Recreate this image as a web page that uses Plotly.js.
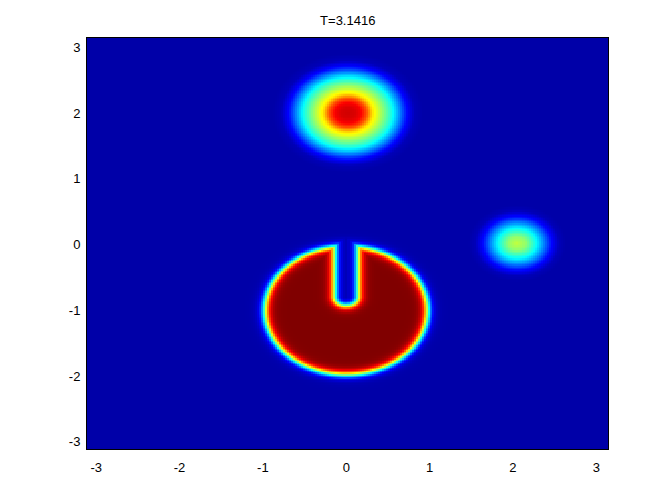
<!DOCTYPE html>
<html>
<head>
<meta charset="utf-8">
<script src="https://cdn.plot.ly/plotly-3.0.1.min.js"></script>
<style>html,body{margin:0;padding:0;background:#fff;}#plot{width:672px;height:504px;}</style>
</head>
<body>
<div id="plot"></div>
<script>
// ---- values ----
const titleText = "T=3.1416";
const xRange = [-3.11, 3.14];
const yRange = [-3.11, 3.14];
const tickVals = [-3, -2, -1, 0, 1, 2, 3];
const tickText = ["-3", "-2", "-1", "0", "1", "2", "3"];

// slotted cylinder (value 1 inside)
const cylinderCenter = [0, -1];
const cylinderRadius = 0.975;
const slotHalfWidth = 0.135;
const slotBottom = -0.925;
const cylinderValue = 1.0;
const edgeWidth = 0.034;

// large smooth hump, radial profile
const humpCenter = [0.02, 2.0];
const humpRadii  = [0, 0.08, 0.15, 0.22, 0.29, 0.53, 0.70, 0.80, 0.90];
const humpValues = [0.92, 0.91, 0.88, 0.79, 0.65, 0.38, 0.125, 0.02, 0];

// small hump, radial profile
const smallCenter = [2.05, 0.02];
const smallRadii  = [0, 0.10, 0.22, 0.40, 0.50, 0.58];
const smallValues = [0.56, 0.51, 0.375, 0.125, 0.02, 0];

const gridN = 260;

// ---- build the field ----
function radial(r, rs, vs) {
  if (r >= rs[rs.length - 1]) return vs[vs.length - 1];
  for (let i = 1; i < rs.length; i++) {
    if (r <= rs[i]) {
      const t = (r - rs[i - 1]) / (rs[i] - rs[i - 1]);
      return vs[i - 1] + t * (vs[i] - vs[i - 1]);
    }
  }
  return 0;
}
function cylinderField(x, y) {
  const dx = x - cylinderCenter[0], dy = y - cylinderCenter[1];
  const dDisk = cylinderRadius - Math.hypot(dx, dy);
  const segBottom = slotBottom + slotHalfWidth;
  const py = y < segBottom ? y - segBottom : 0;
  const dSlot = slotHalfWidth - Math.hypot(dx, py);
  const d = Math.min(dDisk, -dSlot);
  return cylinderValue / (1 + Math.exp(-d / edgeWidth));
}

const xs = [], ys = [];
for (let i = 0; i < gridN; i++) {
  xs.push(xRange[0] + (xRange[1] - xRange[0]) * i / (gridN - 1));
  ys.push(yRange[0] + (yRange[1] - yRange[0]) * i / (gridN - 1));
}
const z = ys.map(y => xs.map(x => {
  const a = cylinderField(x, y);
  const b = radial(Math.hypot(x - humpCenter[0], y - humpCenter[1]), humpRadii, humpValues);
  const c = radial(Math.hypot(x - smallCenter[0], y - smallCenter[1]), smallRadii, smallValues);
  return Math.max(a, b, c);
}));

const jet = [
  [0, "rgb(0,0,168)"], [0.11, "rgb(0,0,255)"], [0.365, "rgb(0,255,255)"],
  [0.62, "rgb(255,255,0)"], [0.873, "rgb(255,0,0)"], [1, "rgb(128,0,0)"]
];

const trace = {
  type: "heatmap", x: xs, y: ys, z: z,
  colorscale: jet, zmin: 0, zmax: 1, showscale: false, zsmooth: false,
  hoverinfo: "skip"
};

const axisCommon = {
  tickvals: tickVals, ticktext: tickText,
  showgrid: false, zeroline: false,
  showline: true, linecolor: "#000", linewidth: 1, mirror: true,
  ticks: "outside", tickcolor: "rgba(0,0,0,0)",
  tickfont: { family: "Liberation Sans, Arial, sans-serif", size: 13, color: "#000" }
};

const layout = {
  width: 672, height: 504,
  margin: { l: 87, r: 63.5, t: 38, b: 55, pad: 0 },
  paper_bgcolor: "#fff", plot_bgcolor: "#fff",
  title: {
    text: titleText, x: 0.5175, xanchor: "center",
    y: 1 - 20 / 504, yref: "container", yanchor: "middle",
    font: { family: "Liberation Sans, Arial, sans-serif", size: 13, color: "#000" }
  },
  xaxis: Object.assign({}, axisCommon, { range: xRange, ticklen: 6 }),
  yaxis: Object.assign({}, axisCommon, { range: yRange, ticklen: 3 }),
  showlegend: false
};

Plotly.newPlot("plot", [trace], layout, { staticPlot: true, displayModeBar: false });
</script>
</body>
</html>
